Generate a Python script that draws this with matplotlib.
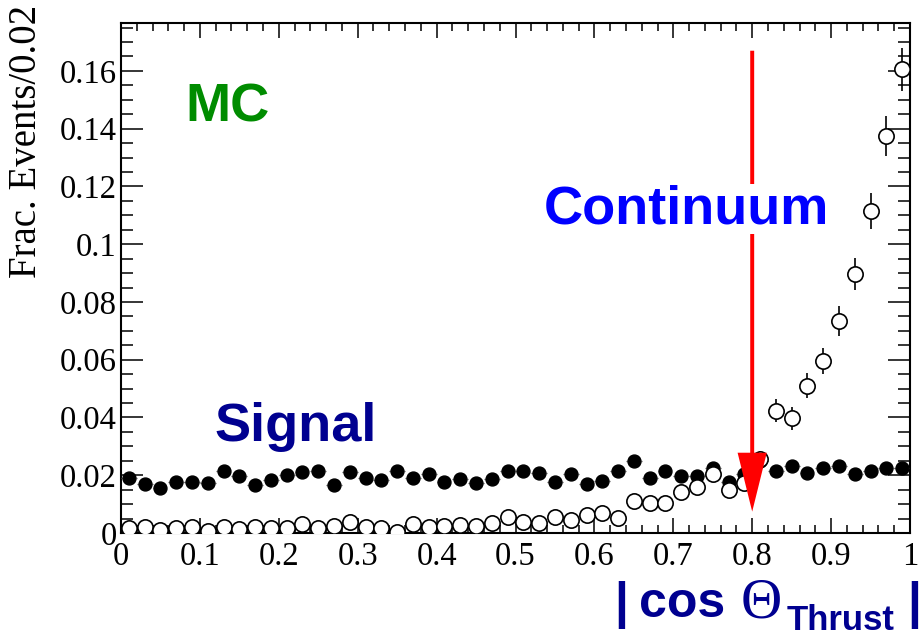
import numpy as np
import matplotlib
matplotlib.use("Agg")
import matplotlib.pyplot as plt
from matplotlib.ticker import MultipleLocator

# |cos theta_thrust| distributions, 50 bins of width 0.02
BIN_WIDTH = 0.02
bin_centers = np.arange(50) * BIN_WIDTH + BIN_WIDTH / 2

signal = [0.0189, 0.0169, 0.0155, 0.0178, 0.0176, 0.0174, 0.0216, 0.0198, 0.0166, 0.0184,
          0.0201, 0.0212, 0.0216, 0.0166, 0.0210, 0.0189, 0.0182, 0.0215, 0.0189, 0.0203,
          0.0176, 0.0186, 0.0174, 0.0186, 0.0215, 0.0215, 0.0207, 0.0178, 0.0203, 0.0170,
          0.0180, 0.0215, 0.0249, 0.0189, 0.0215, 0.0197, 0.0197, 0.0224, 0.0178, 0.0203,
          0.0250, 0.0215, 0.0232, 0.0209, 0.0224, 0.0232, 0.0206, 0.0215, 0.0224, 0.0224]

continuum = [0.0016, 0.0020, 0.0010, 0.0016, 0.0020, 0.0007, 0.0022, 0.0013, 0.0022, 0.0016,
             0.0016, 0.0031, 0.0016, 0.0024, 0.0039, 0.0020, 0.0018, 0.0005, 0.0031, 0.0022,
             0.0024, 0.0028, 0.0024, 0.0036, 0.0056, 0.0039, 0.0036, 0.0056, 0.0045, 0.0062,
             0.0070, 0.0051, 0.0111, 0.0105, 0.0103, 0.0143, 0.0158, 0.0203, 0.0149, 0.0174,
             0.0255, 0.0423, 0.0397, 0.0510, 0.0597, 0.0734, 0.0896, 0.1116, 0.1375, 0.1606]

continuum_err = [0.0008, 0.0008, 0.0006, 0.0008, 0.0008, 0.0005, 0.0009, 0.0007, 0.0009, 0.0008,
                 0.0008, 0.0010, 0.0008, 0.0009, 0.0012, 0.0008, 0.0008, 0.0004, 0.0010, 0.0009,
                 0.0009, 0.0010, 0.0009, 0.0011, 0.0014, 0.0012, 0.0011, 0.0014, 0.0013, 0.0015,
                 0.0016, 0.0013, 0.0020, 0.0019, 0.0019, 0.0022, 0.0024, 0.0027, 0.0023, 0.0025,
                 0.0030, 0.0040, 0.0039, 0.0044, 0.0045, 0.0051, 0.0056, 0.0063, 0.0068, 0.0075]

CUT = 0.8
SERIF = "Liberation Serif"
SANS = "Liberation Sans"
NAVY = "#000090"

fig = plt.figure(figsize=(9.21, 6.36), dpi=100)
ax = fig.add_axes([121 / 921, 1 - 533 / 636, (910 - 121) / 921, (533 - 23) / 636])

# signal: filled dots with dotted horizontal bars
eb = ax.errorbar(bin_centers, signal, xerr=BIN_WIDTH / 2, fmt="o", color="black",
                 ms=9.3, ecolor="#555555", elinewidth=0.9, zorder=3)
eb[2][0].set_linestyle((0, (1, 2)))

# continuum: open circles with vertical error bars
ax.errorbar(bin_centers, continuum, yerr=continuum_err, fmt="o", mfc="white", mec="black",
            mew=1.2, ms=11, ecolor="black", elinewidth=1.2, zorder=4)

# cut arrow
ax.arrow(CUT, 0.167, 0, -(0.167 - 0.0074), width=0.005, head_width=0.037,
         head_length=0.0204, length_includes_head=True, color="#ff0000", lw=0, zorder=5)

ax.text(0.081, 0.1424, "MC", color="#008c00", fontsize=39, fontweight="bold", family=SANS)
ax.text(0.119, 0.0319, "Signal", color=NAVY, fontsize=39, fontweight="bold", family=SANS)
ax.text(0.717, 0.1073, "Continuum", color="#0000ff", fontsize=39, fontweight="bold", family=SANS,
        ha="center", zorder=6, bbox=dict(facecolor="white", edgecolor="none", pad=0))

ax.set_xlim(0, 1)
ax.set_ylim(0, 0.1766)

ax.xaxis.set_major_locator(MultipleLocator(0.1))
ax.xaxis.set_minor_locator(MultipleLocator(0.02))
ax.yaxis.set_major_locator(MultipleLocator(0.02))
ax.yaxis.set_minor_locator(MultipleLocator(0.005))
ax.xaxis.set_major_formatter(plt.FuncFormatter(lambda v, p: f"{v:.1f}".rstrip("0").rstrip(".")))
ax.yaxis.set_major_formatter(plt.FuncFormatter(lambda v, p: f"{v:.2f}".rstrip("0").rstrip(".")))

ax.tick_params(axis="both", which="both", direction="in", top=True, right=True, width=1.1)
ax.tick_params(axis="x", which="major", length=11, pad=6)
ax.tick_params(axis="x", which="minor", length=5.5)
ax.tick_params(axis="y", which="major", length=16, pad=3)
ax.tick_params(axis="y", which="minor", length=8.5)
for lab in ax.get_xticklabels() + ax.get_yticklabels():
    lab.set_family(SERIF)
    lab.set_fontsize(23.5)
for sp in ax.spines.values():
    sp.set_linewidth(1.5)

# y label
fig.text(27 / 921, 1 - 5 / 636, "Frac. Events/0.02", rotation=90, ha="center", va="top",
         family=SERIF, fontsize=28)

# x label pieces: |cos Θ_Thrust|
def px(x, y):
    return x / 921, 1 - y / 636

fig.text(*px(614, 617), "|", color=NAVY, fontsize=36, fontweight="bold", family=SANS, va="baseline")
fig.text(*px(639, 617), "cos", color=NAVY, fontsize=36, fontweight="bold", family=SANS, va="baseline")
fig.text(*px(741, 618), "Θ", color=NAVY, fontsize=41, family=SERIF, va="baseline")
fig.text(*px(787, 630), "Thrust", color=NAVY, fontsize=25, fontweight="bold", family=SANS, va="baseline")
fig.text(*px(907, 617), "|", color=NAVY, fontsize=36, fontweight="bold", family=SANS, va="baseline")

fig.savefig("out.png", dpi=100)
